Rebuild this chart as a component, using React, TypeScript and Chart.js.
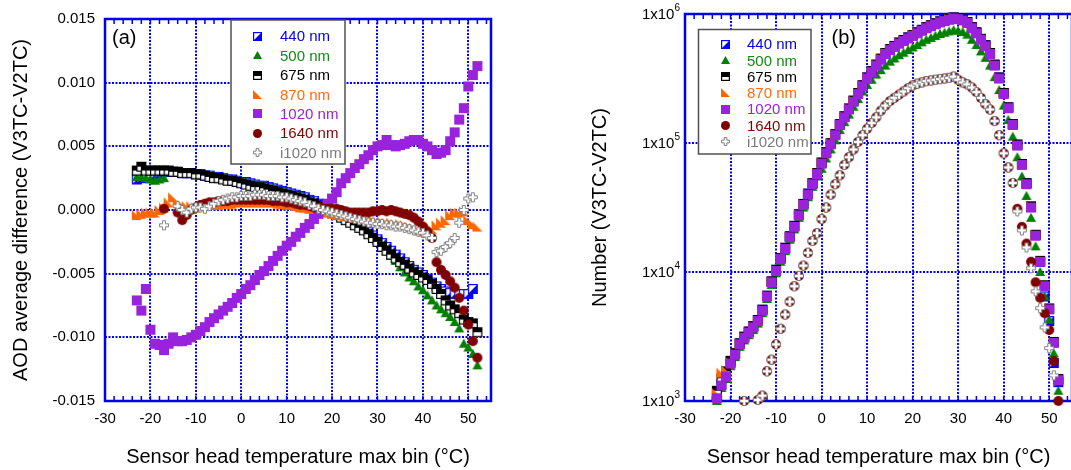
import React, { useEffect, useRef } from 'react';
import { Chart, registerables } from 'chart.js';

Chart.register(...registerables);

const FONT = '"Liberation Sans", Arial, Helvetica, sans-serif';
const AXIS_BLUE = '#0000f0';

// Sensor head temperature bins (°C)
const temps = [
  -23, -22, -21, -20, -19, -18, -17, -16, -15, -14,
  -13, -12, -11, -10, -9, -8, -7, -6, -5, -4,
  -3, -2, -1, 0, 1, 2, 3, 4, 5, 6,
  7, 8, 9, 10, 11, 12, 13, 14, 15, 16,
  17, 18, 19, 20, 21, 22, 23, 24, 25, 26,
  27, 28, 29, 30, 31, 32, 33, 34, 35, 36,
  37, 38, 39, 40, 41, 42, 43, 44, 45, 46,
  47, 48, 49, 50, 51, 52,
];

// Panel (a): AOD average difference (V3TC-V2TC)
const aod440 = [
  0.0024, 0.0025, 0.0026, 0.0027, 0.0028, 0.0029, 0.0030, 0.0030, 0.0030, 0.0030,
  0.0029, 0.0029, 0.0029, 0.0028, 0.0028, 0.0027, 0.0027, 0.0026, 0.0026, 0.0025,
  0.0024, 0.0024, 0.0023, 0.0022, 0.0022, 0.0021, 0.0020, 0.0019, 0.0019, 0.0018,
  0.0017, 0.0016, 0.0015, 0.0014, 0.0013, 0.0012, 0.0011, 0.0010, 0.0008, 0.0007,
  0.0005, 0.0004, 0.0002, 0.0000, -0.0002, -0.0004, -0.0006, -0.0008, -0.0010, -0.0012,
  -0.0015, -0.0017, -0.0020, -0.0023, -0.0026, -0.0029, -0.0032, -0.0035, -0.0038, -0.0041,
  -0.0044, -0.0047, -0.0049, -0.0051, -0.0054, -0.0057, -0.0060, -0.0062, -0.0064, -0.0065,
  -0.0066, -0.0066, -0.0066, -0.0066, -0.0062, null,
];
const aod500 = [
  0.0026, 0.0026, 0.0025, 0.0024, 0.0023, 0.0024, 0.0025, 0.0030, 0.0031, 0.0030,
  0.0030, 0.0029, 0.0029, 0.0029, 0.0028, 0.0028, 0.0027, 0.0027, 0.0026, 0.0025,
  0.0025, 0.0024, 0.0023, 0.0023, 0.0022, 0.0021, 0.0020, 0.0020, 0.0019, 0.0018,
  0.0017, 0.0016, 0.0015, 0.0014, 0.0013, 0.0012, 0.0011, 0.0010, 0.0008, 0.0007,
  0.0005, 0.0003, 0.0002, 0.0000, -0.0002, -0.0004, -0.0006, -0.0008, -0.0010, -0.0012,
  -0.0014, -0.0017, -0.0020, -0.0024, -0.0028, -0.0032, -0.0036, -0.0040, -0.0045, -0.0049,
  -0.0053, -0.0056, -0.0060, -0.0063, -0.0067, -0.0071, -0.0075, -0.0078, -0.0081, -0.0084,
  -0.0088, -0.0093, -0.0105, -0.0108, -0.0113, -0.0122,
];
const aod675 = [
  0.0031, 0.0034, 0.0031, 0.0031, 0.0031, 0.0031, 0.0031, 0.0031, 0.0030, 0.0030,
  0.0029, 0.0029, 0.0029, 0.0028, 0.0028, 0.0027, 0.0026, 0.0025, 0.0025, 0.0024,
  0.0023, 0.0023, 0.0022, 0.0021, 0.0020, 0.0019, 0.0018, 0.0018, 0.0017, 0.0016,
  0.0015, 0.0014, 0.0013, 0.0012, 0.0011, 0.0010, 0.0009, 0.0008, 0.0006, 0.0005,
  0.0003, 0.0002, 0.0000, -0.0002, -0.0004, -0.0006, -0.0008, -0.0010, -0.0012, -0.0014,
  -0.0016, -0.0019, -0.0022, -0.0025, -0.0029, -0.0032, -0.0035, -0.0038, -0.0041, -0.0043,
  -0.0046, -0.0049, -0.0051, -0.0053, -0.0055, -0.0058, -0.0062, -0.0066, -0.0071, -0.0075,
  -0.0078, -0.0081, -0.0086, -0.0088, -0.0089, -0.0096,
];
const aod870 = [
  -0.0004, -0.0003, -0.0002, -0.0002, -0.0002, 0.0000, 0.0002, 0.0006, 0.0010, 0.0006,
  0.0004, 0.0003, 0.0003, 0.0002, 0.0003, 0.0004, 0.0004, 0.0004, 0.0004, 0.0005,
  0.0005, 0.0005, 0.0006, 0.0006, 0.0006, 0.0006, 0.0006, 0.0006, 0.0006, 0.0006,
  0.0006, 0.0005, 0.0005, 0.0004, 0.0004, 0.0003, 0.0002, 0.0002, 0.0001, 0.0000,
  0.0000, -0.0001, -0.0002, -0.0003, -0.0004, -0.0004, -0.0005, -0.0005, -0.0006, -0.0006,
  -0.0007, -0.0008, -0.0008, -0.0009, -0.0009, -0.0010, -0.0010, -0.0011, -0.0011, -0.0012,
  -0.0013, -0.0014, -0.0016, -0.0017, -0.0017, -0.0015, -0.0012, -0.0010, -0.0008, -0.0004,
  -0.0002, -0.0002, -0.0001, -0.0008, -0.0011, -0.0013,
];
const aod1020 = [
  -0.0071, -0.0079, -0.0062, -0.0094, -0.0105, -0.0106, -0.0110, -0.0105, -0.0100, -0.0103,
  -0.0103, -0.0102, -0.0100, -0.0098, -0.0095, -0.0092, -0.0088, -0.0085, -0.0082, -0.0079,
  -0.0076, -0.0073, -0.0069, -0.0066, -0.0062, -0.0059, -0.0055, -0.0051, -0.0048, -0.0044,
  -0.0040, -0.0036, -0.0032, -0.0028, -0.0025, -0.0021, -0.0018, -0.0014, -0.0011, -0.0007,
  -0.0003, 0.0001, 0.0005, 0.0009, 0.0014, 0.0021, 0.0025, 0.0029, 0.0033, 0.0036,
  0.0040, 0.0043, 0.0047, 0.0050, 0.0051, 0.0055, 0.0051, 0.0050, 0.0051, 0.0052,
  0.0054, 0.0055, 0.0055, 0.0052, 0.0050, 0.0047, 0.0044, 0.0045, 0.0047, 0.0054,
  0.0061, 0.0071, 0.0080, 0.0097, 0.0106, 0.0113,
];
const aod1640 = [
  null, null, null, null, null, null, 0.0001, null, null, -0.0002,
  -0.0008, -0.0004, 0.0000, 0.0002, 0.0004, 0.0005, 0.0006, 0.0006, 0.0007, 0.0007,
  0.0007, 0.0008, 0.0008, 0.0008, 0.0008, 0.0008, 0.0008, 0.0008, 0.0008, 0.0008,
  0.0007, 0.0007, 0.0007, 0.0006, 0.0006, 0.0005, 0.0004, 0.0004, 0.0003, 0.0002,
  0.0002, 0.0001, 0.0001, 0.0001, 0.0001, 0.0000, -0.0001, -0.0002, -0.0002, -0.0002,
  -0.0002, -0.0002, -0.0001, -0.0001, 0.0000, -0.0001, 0.0000, -0.0001, -0.0002, -0.0003,
  -0.0004, -0.0006, -0.0009, -0.0013, -0.0017, -0.0022, -0.0041, -0.0047, -0.0051, -0.0056,
  -0.0061, -0.0069, -0.0079, -0.0090, -0.0103, -0.0116,
];
const aodI1020 = [
  null, null, null, null, null, null, -0.0012, null, null, 0.0003,
  0.0000, -0.0002, 0.0001, 0.0002, 0.0002, 0.0001, 0.0003, 0.0005, 0.0007, 0.0008,
  0.0009, 0.0010, 0.0010, 0.0011, 0.0011, 0.0011, 0.0012, 0.0012, 0.0012, 0.0011,
  0.0011, 0.0011, 0.0010, 0.0010, 0.0009, 0.0008, 0.0007, 0.0006, 0.0004, 0.0003,
  0.0001, 0.0000, -0.0001, -0.0002, -0.0003, -0.0004, -0.0005, -0.0006, -0.0007, -0.0008,
  -0.0009, -0.0010, -0.0010, -0.0011, -0.0011, -0.0012, -0.0012, -0.0013, -0.0013, -0.0014,
  -0.0015, -0.0016, -0.0017, -0.0018, -0.0020, -0.0022, -0.0033, -0.0032, -0.0029, -0.0026,
  -0.0022, -0.0010, 0.0000, 0.0009, 0.0010, null,
];

// Panel (b): Number (V3TC-V2TC)
const cnt440 = [
  1080, 1350, 1580, 1990, 2330, 2800, 3150, 3450, 3790, 4250,
  5100, 6550, 8450, 10400, 12800, 15400, 18900, 22800, 28000, 33700,
  40500, 48800, 58500, 70500, 84700, 99500, 117000, 140000, 161000, 185000,
  213000, 244000, 280000, 322000, 361000, 405000, 450000, 499000, 535000, 566000,
  600000, 628000, 658000, 688000, 721000, 754000, 790000, 818000, 847000, 876000,
  897000, 918000, 940000, 928000, 907000, 866000, 790000, 721000, 642000, 572000,
  499000, 405000, 322000, 244000, 189000, 140000, 97200, 68800, 48800, 32200,
  19400, 12000, 6460, 4170, 1970, 1400,
];
const cnt500 = [
  1000, 1260, 1480, 1860, 2190, 2630, 2950, 3240, 3550, 3980,
  4790, 6170, 7940, 9770, 12000, 14500, 17800, 21400, 26300, 31600,
  38000, 45700, 55000, 63100, 75900, 89100, 105000, 126000, 145000, 166000,
  191000, 219000, 251000, 282000, 309000, 339000, 367000, 398000, 427000, 452000,
  479000, 501000, 525000, 550000, 575000, 603000, 631000, 653000, 676000, 700000,
  716000, 733000, 750000, 741000, 724000, 692000, 631000, 575000, 513000, 457000,
  398000, 324000, 257000, 195000, 151000, 112000, 77600, 55000, 38900, 26300,
  15800, 10000, 6460, 4270, 2340, 1200,
];
const cnt675 = [
  1200, 1500, 1700, 2050, 2350, 2800, 3150, 3450, 3800, 4250,
  5100, 6550, 8450, 10400, 12800, 15400, 18900, 22800, 28000, 33700,
  40500, 48800, 58500, 70500, 84700, 99500, 117000, 140000, 161000, 185000,
  213000, 244000, 280000, 322000, 361000, 405000, 450000, 499000, 535000, 566000,
  600000, 628000, 658000, 688000, 721000, 754000, 790000, 818000, 847000, 876000,
  897000, 918000, 940000, 928000, 907000, 866000, 790000, 721000, 642000, 572000,
  499000, 405000, 322000, 244000, 189000, 140000, 97200, 68800, 48800, 32200,
  19400, 12200, 7900, 5220, 2870, 1480,
];
const cnt870 = [
  1150, 1660, 1740, 2000, 2330, 2800, 3120, 3420, 3760, 4210,
  5100, 6550, 8450, 10400, 12800, 15400, 18900, 22800, 28000, 33700,
  40500, 48800, 58500, 70500, 84700, 99500, 117000, 140000, 161000, 185000,
  213000, 244000, 280000, 322000, 361000, 405000, 450000, 499000, 535000, 566000,
  600000, 628000, 658000, 688000, 721000, 754000, 790000, 818000, 847000, 876000,
  897000, 918000, 940000, 928000, 907000, 866000, 790000, 721000, 642000, 572000,
  499000, 405000, 322000, 244000, 189000, 140000, 97200, 68800, 48800, 32200,
  19400, 12200, 7900, 5220, 2870, 1480,
];
const cnt1020 = [
  1050, 1320, 1550, 1950, 2290, 2750, 3090, 3390, 3720, 4170,
  5010, 6460, 8320, 10200, 12600, 15100, 18600, 22400, 27500, 33100,
  39800, 47900, 57500, 69200, 83200, 97700, 115000, 138000, 158000, 182000,
  209000, 240000, 275000, 316000, 355000, 398000, 442000, 490000, 525000, 556000,
  589000, 617000, 646000, 676000, 708000, 741000, 776000, 804000, 832000, 861000,
  881000, 902000, 923000, 912000, 891000, 851000, 776000, 708000, 631000, 562000,
  490000, 398000, 316000, 240000, 186000, 138000, 95500, 67600, 47900, 31600,
  19100, 12000, 7760, 5130, 2820, 1450,
];
const cnt1640 = [
  null, null, null, null, null, null, 1000, null, null, 1020,
  1100, 1700, 2090, 2750, 3630, 4680, 5890, 7760, 9330, 11200,
  14100, 17400, 20000, 25700, 31600, 39800, 47900, 56200, 67600, 77600,
  89100, 102000, 115000, 129000, 143000, 158000, 178000, 195000, 211000, 224000,
  237000, 251000, 266000, 279000, 288000, 295000, 302000, 305000, 309000, 313000,
  316000, 320000, 327000, 309000, 295000, 285000, 269000, 248000, 224000, 200000,
  182000, 148000, 115000, 83200, 64600, 49000, 30900, 22400, 16600, 12000,
  8320, 6310, 4790, 3550, 2040, 1000,
];
const cntI1020 = [
  null, null, null, null, null, null, 1000, null, null, 1020,
  1100, 1700, 2090, 2750, 3630, 4680, 5890, 7760, 9330, 11200,
  14100, 17400, 20000, 25700, 31600, 39800, 47900, 56200, 67600, 77600,
  89100, 102000, 115000, 129000, 143000, 158000, 178000, 195000, 211000, 224000,
  237000, 251000, 266000, 279000, 288000, 295000, 302000, 305000, 309000, 313000,
  316000, 320000, 327000, 309000, 295000, 285000, 269000, 248000, 224000, 200000,
  182000, 148000, 115000, 83200, 64600, 49000, 29500, 21000, 15500, 10700,
  7080, 5250, 3720, 2570, 1580, null,
];

const seriesNames = ['440 nm', '500 nm', '675 nm', '870 nm', '1020 nm', '1640 nm', 'i1020 nm'];
const textColors = ['#0000e6', '#138a13', '#000000', '#ff6a10', '#9922dd', '#800000', '#7a7a7a'];
const markerKinds = ['half440', 'tri500', 'half675', 'wedge870', 'sq1020', 'dot1640', 'cross'];

const xTickValues = [-30, -20, -10, 0, 10, 20, 30, 40, 50];
const aodTickValues = [-0.015, -0.01, -0.005, 0, 0.005, 0.01, 0.015];
const countTickValues = [1000, 10000, 100000, 1000000];
const countTickExponents = ['3', '4', '5', '6'];

function makeMarker(kind: string, s: number): HTMLCanvasElement {
  const c = document.createElement('canvas');
  const d = s + 2;
  c.width = d;
  c.height = d;
  const g = c.getContext('2d') as CanvasRenderingContext2D;
  const o = 1;
  if (kind === 'half440') {
    g.fillStyle = '#ffffff';
    g.fillRect(o, o, s, s);
    g.fillStyle = '#0000ff';
    g.beginPath();
    g.moveTo(o + s, o);
    g.lineTo(o + s, o + s);
    g.lineTo(o, o + s);
    g.closePath();
    g.fill();
    g.strokeStyle = '#0000ff';
    g.lineWidth = 1.2;
    g.strokeRect(o + 0.6, o + 0.6, s - 1.2, s - 1.2);
  } else if (kind === 'tri500') {
    g.fillStyle = '#008000';
    g.beginPath();
    g.moveTo(o + s / 2, o);
    g.lineTo(o + s, o + s - 1);
    g.lineTo(o, o + s - 1);
    g.closePath();
    g.fill();
  } else if (kind === 'half675') {
    g.fillStyle = '#ffffff';
    g.fillRect(o, o, s, s);
    g.fillStyle = '#000000';
    g.fillRect(o, o, s, Math.ceil(s / 2));
    g.strokeStyle = '#000000';
    g.lineWidth = 1.2;
    g.strokeRect(o + 0.6, o + 0.6, s - 1.2, s - 1.2);
  } else if (kind === 'wedge870') {
    g.fillStyle = '#ff6600';
    g.beginPath();
    g.moveTo(o, o);
    g.lineTo(o, o + s);
    g.lineTo(o + s, o + s);
    g.closePath();
    g.fill();
  } else if (kind === 'sq1020') {
    g.fillStyle = '#9922dd';
    g.fillRect(o, o, s, s);
  } else if (kind === 'dot1640') {
    g.fillStyle = '#800000';
    g.beginPath();
    g.arc(o + s / 2, o + s / 2, s / 2, 0, Math.PI * 2);
    g.fill();
  } else {
    const x0 = o + 0.5;
    const y0 = o + 0.5;
    const w = s - 1;
    const b = w / 3;
    g.beginPath();
    g.moveTo(x0 + b, y0);
    g.lineTo(x0 + 2 * b, y0);
    g.lineTo(x0 + 2 * b, y0 + b);
    g.lineTo(x0 + w, y0 + b);
    g.lineTo(x0 + w, y0 + 2 * b);
    g.lineTo(x0 + 2 * b, y0 + 2 * b);
    g.lineTo(x0 + 2 * b, y0 + w);
    g.lineTo(x0 + b, y0 + w);
    g.lineTo(x0 + b, y0 + 2 * b);
    g.lineTo(x0, y0 + 2 * b);
    g.lineTo(x0, y0 + b);
    g.lineTo(x0 + b, y0 + b);
    g.closePath();
    g.fillStyle = '#ffffff';
    g.fill();
    g.strokeStyle = '#808080';
    g.lineWidth = 1;
    g.stroke();
  }
  return c;
}

type LegendLayout = { x: number; y: number; w: number; h: number; markerX: number; textX: number; row0: number; rowStep: number };

function decorPlugin(legend: LegendLayout, panelLabel: { text: string; x: number; y: number }, logLabels: boolean, legendMarkers: HTMLCanvasElement[]) {
  return {
    id: 'decor',
    beforeDatasetsDraw(chart: any) {
      const { ctx, chartArea: a, scales } = chart;
      ctx.save();
      ctx.strokeStyle = AXIS_BLUE;
      ctx.lineWidth = 1.5;
      ctx.beginPath();
      for (let t = -28; t <= 54; t += 2) {
        const px = scales.x.getPixelForValue(t);
        ctx.moveTo(px, a.bottom);
        ctx.lineTo(px, a.bottom - 5);
        ctx.moveTo(px, a.top);
        ctx.lineTo(px, a.top + 5);
      }
      ctx.stroke();
      ctx.lineWidth = 2.5;
      ctx.strokeRect(a.left, a.top, a.right - a.left, a.bottom - a.top);
      ctx.restore();
    },
    afterDatasetsDraw(chart: any) {
      const { ctx, chartArea: a, scales } = chart;
      ctx.save();
      ctx.fillStyle = '#ffffff';
      ctx.fillRect(legend.x, legend.y, legend.w, legend.h);
      ctx.strokeStyle = '#505050';
      ctx.lineWidth = 1.5;
      ctx.strokeRect(legend.x, legend.y, legend.w, legend.h);
      ctx.font = `15px ${FONT}`;
      ctx.textBaseline = 'middle';
      ctx.textAlign = 'left';
      seriesNames.forEach((name, i) => {
        const ry = legend.row0 + legend.rowStep * i;
        const m = legendMarkers[i];
        ctx.drawImage(m, Math.round(legend.markerX - m.width / 2), Math.round(ry - m.height / 2));
        ctx.fillStyle = textColors[i];
        ctx.fillText(name, legend.textX, ry + 1);
      });
      ctx.fillStyle = '#000000';
      ctx.font = `20px ${FONT}`;
      ctx.fillText(panelLabel.text, panelLabel.x, panelLabel.y);
      if (logLabels) {
        const ys = scales.y;
        countTickValues.forEach((v, i) => {
          const py = ys.getPixelForValue(v);
          const right = a.left - 5;
          ctx.font = `10px ${FONT}`;
          const ew = ctx.measureText(countTickExponents[i]).width;
          ctx.textAlign = 'left';
          ctx.fillText(countTickExponents[i], right - ew, py - 6);
          ctx.font = `15px ${FONT}`;
          ctx.textAlign = 'right';
          ctx.fillText('1x10', right - ew, py + 1);
        });
      }
      ctx.restore();
    },
  };
}

const gridOpts = { color: '#0000ff', lineWidth: 2, drawTicks: false };
const borderOpts = { display: false, dash: [2, 1.5] };
const tickFont = { family: FONT, size: 15 };
const titleFont = { family: FONT, size: 20 };

function makeDatasets(series: (number | null)[][], markers: HTMLCanvasElement[]) {
  return series.map((arr, i) => ({
    label: seriesNames[i],
    data: temps
      .map((t, j) => ({ x: t, y: arr[j] }))
      .filter((p) => p.y !== null),
    pointStyle: markers[i],
    pointRadius: 5,
    showLine: false,
    clip: false as any,
    order: 6 - i,
  }));
}

function xScale() {
  return {
    type: 'linear',
    min: -30,
    max: 55,
    afterBuildTicks: (s: any) => {
      s.ticks = xTickValues.map((v) => ({ value: v }));
    },
    afterFit: (s: any) => {
      s.height = 69;
    },
    grid: gridOpts,
    border: borderOpts,
    ticks: { padding: 9, color: '#000', font: tickFont, maxRotation: 0, minRotation: 0, autoSkip: false },
    title: {
      display: true,
      text: 'Sensor head temperature max bin (°C)',
      color: '#000',
      font: titleFont,
      padding: { top: 0, bottom: 1 },
    },
  };
}

export default function App() {
  const refA = useRef<HTMLCanvasElement>(null);
  const refB = useRef<HTMLCanvasElement>(null);

  useEffect(() => {
    const plotMarkers = markerKinds.map((k) => makeMarker(k, 10));
    const legendMarkers = markerKinds.map((k) => makeMarker(k, 9));

    const chartA = new Chart(refA.current as HTMLCanvasElement, {
      type: 'scatter',
      data: {
        datasets: makeDatasets([aod440, aod500, aod675, aod870, aod1020, aod1640, aodI1020], plotMarkers) as any,
      },
      options: {
        responsive: false,
        animation: false,
        events: [],
        layout: { padding: { left: 0, top: 14, right: 49, bottom: 0 } },
        plugins: { legend: { display: false }, tooltip: { enabled: false } },
        scales: {
          x: xScale() as any,
          y: {
            type: 'linear',
            min: -0.015,
            max: 0.015,
            afterBuildTicks: (s: any) => {
              s.ticks = aodTickValues.map((v) => ({ value: v }));
            },
            afterFit: (s: any) => {
              s.width = 105;
            },
            grid: gridOpts,
            border: borderOpts,
            ticks: {
              padding: 10,
              color: '#000',
              font: tickFont,
              callback: (v: any) => Number(v).toFixed(3),
            },
            title: {
              display: true,
              text: 'AOD average difference (V3TC-V2TC)',
              color: '#000',
              font: titleFont,
              padding: { top: 9, bottom: 0 },
            },
          } as any,
        },
      },
      plugins: [
        decorPlugin(
          { x: 231, y: 20, w: 114, h: 144, markerX: 257, textX: 280, row0: 36.3, rowStep: 19.4 },
          { text: '(a)', x: 112, y: 38 },
          false,
          legendMarkers,
        ) as any,
      ],
    });

    const chartB = new Chart(refB.current as HTMLCanvasElement, {
      type: 'scatter',
      data: {
        datasets: makeDatasets([cnt440, cnt500, cnt675, cnt870, cnt1020, cnt1640, cntI1020], plotMarkers) as any,
      },
      options: {
        responsive: false,
        animation: false,
        events: [],
        layout: { padding: { left: 0, top: 14, right: 8, bottom: 0 } },
        plugins: { legend: { display: false }, tooltip: { enabled: false } },
        scales: {
          x: xScale() as any,
          y: {
            type: 'logarithmic',
            min: 1000,
            max: 1000000,
            afterBuildTicks: (s: any) => {
              s.ticks = countTickValues.map((v) => ({ value: v }));
            },
            afterFit: (s: any) => {
              s.width = 145;
            },
            grid: gridOpts,
            border: borderOpts,
            ticks: { display: false },
            title: {
              display: true,
              text: 'Number (V3TC-V2TC)',
              color: '#000',
              font: titleFont,
              padding: { top: 48, bottom: 0 },
            },
          } as any,
        },
      },
      plugins: [
        decorPlugin(
          { x: 158.5, y: 29.5, w: 112.5, h: 124.5, markerX: 185.5, textX: 207, row0: 44.3, rowStep: 16.23 },
          { text: '(b)', x: 291.5, y: 38 },
          true,
          legendMarkers,
        ) as any,
      ],
    });

    return () => {
      chartA.destroy();
      chartB.destroy();
    };
  }, []);

  return (
    <div
      style={{
        position: 'absolute',
        left: 0,
        top: 0,
        width: 1071,
        height: 470,
        overflow: 'hidden',
        background: '#ffffff',
      }}
    >
      <canvas ref={refA} width={540} height={470} style={{ position: 'absolute', left: 0, top: 0, width: 540, height: 470 }} />
      <canvas ref={refB} width={540} height={470} style={{ position: 'absolute', left: 540, top: 0, width: 540, height: 470 }} />
    </div>
  );
}
